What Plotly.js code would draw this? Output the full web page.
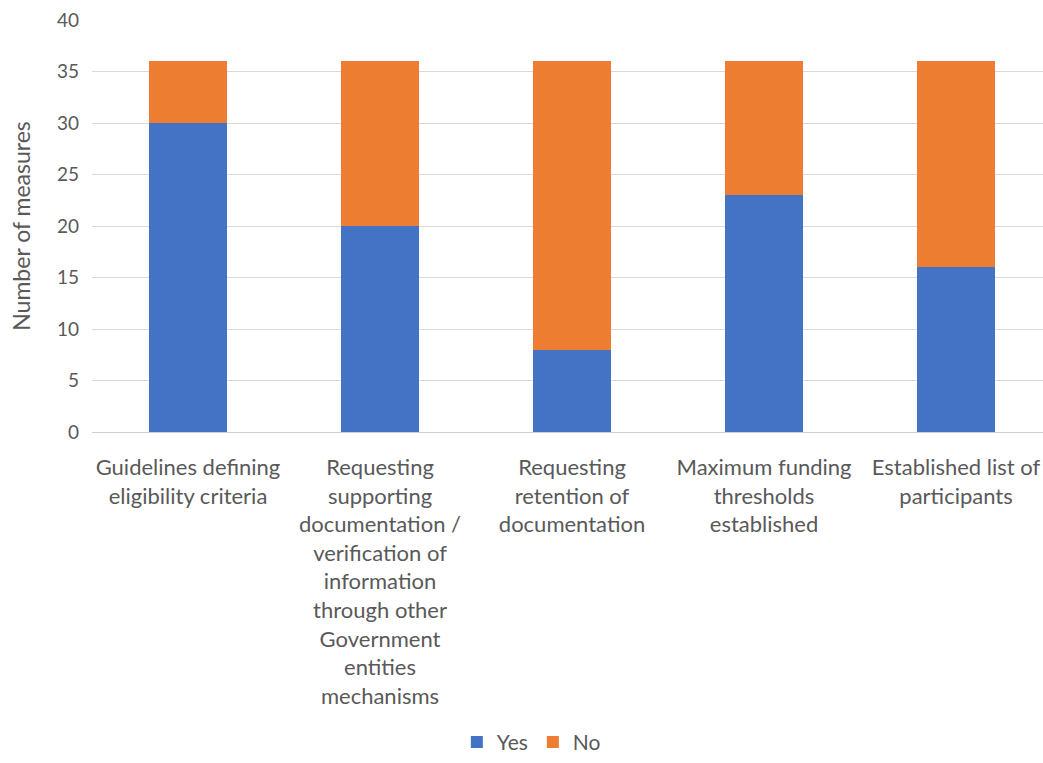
<!DOCTYPE html>
<html>
<head>
<meta charset="utf-8">
<script src="https://cdn.plot.ly/plotly-3.0.1.min.js"></script>
<style>
  html, body { margin: 0; padding: 0; background: #ffffff; }
  #chart { width: 1043px; height: 763px; }
</style>
</head>
<body>
<div id="chart"></div>
<script>
// Measures by control type, split into Yes / No counts
const categories = [
  "Guidelines defining<br>eligibility criteria",
  "Requesting<br>supporting<br>documentation /<br>verification of<br>information<br>through other<br>Government<br>entities<br>mechanisms",
  "Requesting<br>retention of<br>documentation",
  "Maximum funding<br>thresholds<br>established",
  "Established list of<br>participants"
];
const yesValues = [30, 20, 8, 23, 16];
const noValues = [6, 16, 28, 13, 20];
const yTicks = [0, 5, 10, 15, 20, 25, 30, 35, 40];

const textColor = "#595959";
const fontFamily = "Lato, Open Sans, sans-serif";

const traces = [
  {
    type: "bar",
    name: "Yes",
    x: categories,
    y: yesValues,
    marker: { color: "#4472C4" },
    hoverinfo: "y+name"
  },
  {
    type: "bar",
    name: "No",
    x: categories,
    y: noValues,
    marker: { color: "#ED7D31" },
    hoverinfo: "y+name"
  }
];

const layout = {
  width: 1043,
  height: 763,
  barmode: "stack",
  bargap: 0.594,
  paper_bgcolor: "#ffffff",
  plot_bgcolor: "#ffffff",
  margin: { l: 92, r: 0, t: 20, b: 331, autoexpand: false },
  font: { family: fontFamily, color: textColor, size: 18 },
  xaxis: {
    type: "category",
    range: [-0.5, 4.453],
    showgrid: false,
    zeroline: false,
    showline: false,
    ticks: "",
    tickangle: 0,
    ticklabelstandoff: 20,
    tickfont: { size: 22, color: textColor, family: fontFamily },
    automargin: false
  },
  yaxis: {
    range: [0, 40],
    tickvals: yTicks,
    ticktext: yTicks.map(String),
    showgrid: true,
    gridcolor: "#d9d9d9",
    gridwidth: 1.3,
    zeroline: true,
    zerolinecolor: "#d0d0d0",
    zerolinewidth: 1.3,
    showline: false,
    ticks: "",
    ticklabelstandoff: 12,
    tickfont: { size: 19, color: textColor, family: fontFamily },
    title: {
      text: "Number of measures",
      font: { size: 23, color: textColor, family: fontFamily },
      standoff: 19
    },
    automargin: false
  },
  showlegend: true,
  legend: {
    orientation: "h",
    x: 0.462,
    xanchor: "center",
    y: -0.803,
    yanchor: "bottom",
    font: { size: 21, color: textColor, family: fontFamily },
    itemwidth: 30,
    itemsizing: "constant",
    traceorder: "normal"
  },
  hovermode: "closest"
};

Plotly.newPlot("chart", traces, layout, { displayModeBar: false, responsive: false });
</script>
</body>
</html>
